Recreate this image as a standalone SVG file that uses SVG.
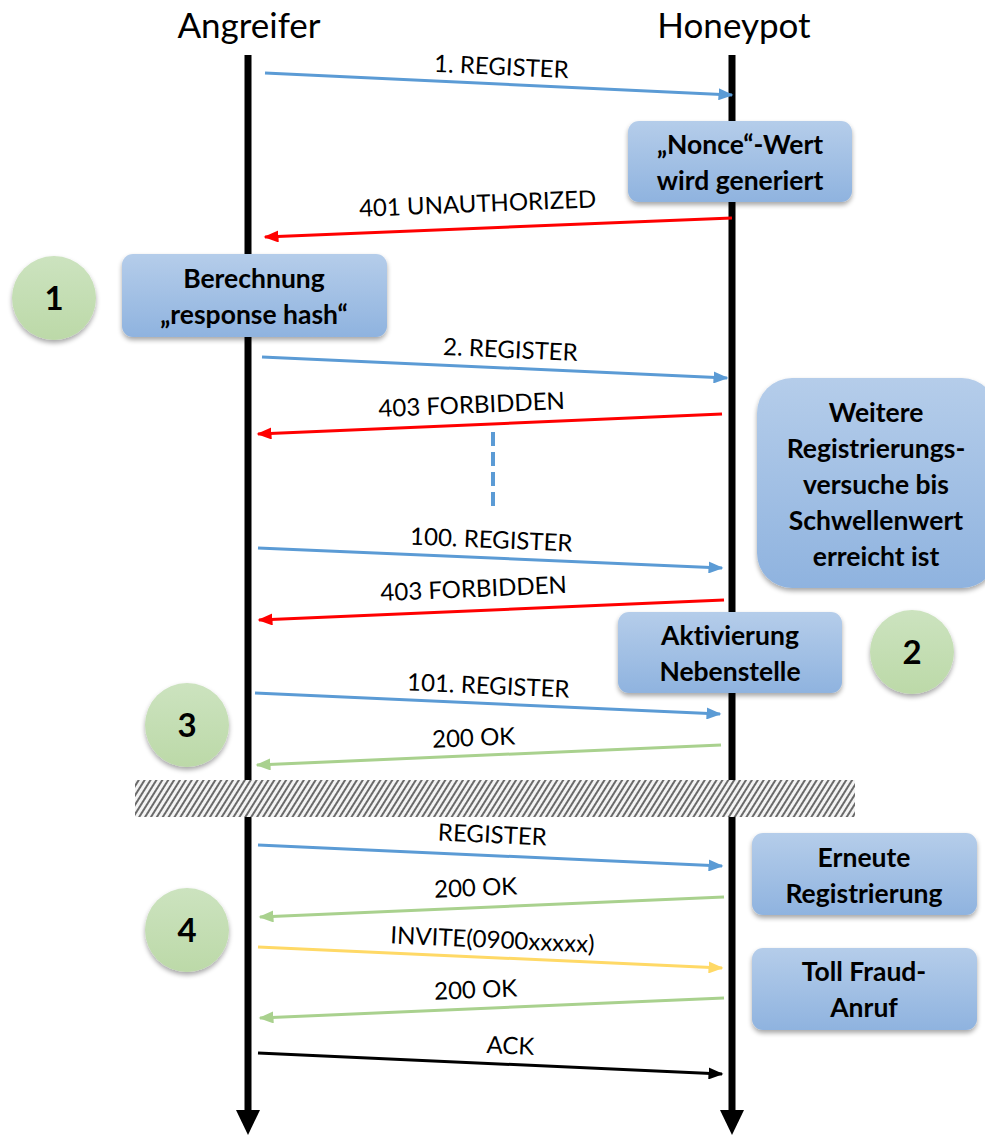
<svg xmlns="http://www.w3.org/2000/svg" width="985" height="1135" viewBox="0 0 985 1135">
  <style>
    text { font-variant-ligatures: none; }
    .hdr { font-family: Lato, "Liberation Sans", sans-serif; font-size: 35px; fill: #000; text-anchor: middle; }
    .lbl { font-family: Lato, "Liberation Sans", sans-serif; font-size: 24px; fill: #000; text-anchor: middle; }
    .box { fill: url(#boxGrad); filter: url(#shadow); }
    .btxt { font-family: Lato, "Liberation Sans", sans-serif; font-size: 26.5px; font-weight: bold; fill: #000; text-anchor: middle; }
    .circ { fill: url(#circGrad); filter: url(#shadow); }
    .ctxt { font-family: Lato, "Liberation Sans", sans-serif; font-size: 33px; font-weight: bold; fill: #000; text-anchor: middle; }
    .life { stroke: #000; stroke-width: 7; fill: none; }
    .msg { stroke-width: 3; fill: none; }
    .blue { stroke: #5b9bd5; marker-end: url(#mBlue); }
    .red { stroke: #ff0000; marker-end: url(#mRed); }
    .green { stroke: #a9d18e; marker-end: url(#mGreen); }
    .yellow { stroke: #ffd966; marker-end: url(#mYellow); }
    .black { stroke: #000; marker-end: url(#mBlack); }
  </style>
  <defs>
    <linearGradient id="boxGrad" x1="0" y1="0" x2="0" y2="1">
      <stop offset="0" stop-color="#b5cdea"/>
      <stop offset="1" stop-color="#8fb3df"/>
    </linearGradient>
    <linearGradient id="circGrad" x1="0" y1="0" x2="0" y2="1">
      <stop offset="0" stop-color="#cce3bf"/>
      <stop offset="1" stop-color="#bcd9a8"/>
    </linearGradient>
    <filter id="shadow" x="-20%" y="-20%" width="140%" height="150%">
      <feGaussianBlur in="SourceAlpha" stdDeviation="2.5"/>
      <feOffset dx="0" dy="3" result="b"/>
      <feComponentTransfer><feFuncA type="linear" slope="0.35"/></feComponentTransfer>
      <feMerge><feMergeNode/><feMergeNode in="SourceGraphic"/></feMerge>
    </filter>
    <pattern id="hatch" width="5" height="5" patternUnits="userSpaceOnUse" patternTransform="rotate(32)">
      <rect width="5" height="5" fill="#f4f4f4"/>
      <rect width="2" height="5" fill="#6a6a6a"/>
    </pattern>
    <marker id="mBlue" markerWidth="5" markerHeight="4" refX="4.5" refY="2" orient="auto" markerUnits="strokeWidth">
      <path d="M0,0 L5,2 L0,4 z" fill="#5b9bd5"/>
    </marker>
    <marker id="mRed" markerWidth="5" markerHeight="4" refX="4.5" refY="2" orient="auto" markerUnits="strokeWidth">
      <path d="M0,0 L5,2 L0,4 z" fill="#ff0000"/>
    </marker>
    <marker id="mGreen" markerWidth="5" markerHeight="4" refX="4.5" refY="2" orient="auto" markerUnits="strokeWidth">
      <path d="M0,0 L5,2 L0,4 z" fill="#a9d18e"/>
    </marker>
    <marker id="mYellow" markerWidth="5" markerHeight="4" refX="4.5" refY="2" orient="auto" markerUnits="strokeWidth">
      <path d="M0,0 L5,2 L0,4 z" fill="#ffd966"/>
    </marker>
    <marker id="mBlack" markerWidth="5" markerHeight="4" refX="4.5" refY="2" orient="auto" markerUnits="strokeWidth">
      <path d="M0,0 L5,2 L0,4 z" fill="#000"/>
    </marker>
  </defs>

  <rect width="985" height="1135" fill="#fff"/>

  <!-- participants -->
  <g id="angreifer">
    <text class="hdr" x="249" y="38">Angreifer</text>
    <line class="life" x1="248" y1="55" x2="248" y2="1112"/>
    <path d="M236,1110 L260,1110 L248,1135 z" fill="#000"/>
  </g>
  <g id="honeypot">
    <text class="hdr" x="734" y="38">Honeypot</text>
    <line class="life" x1="732" y1="55" x2="732" y2="1112"/>
    <path d="M720,1110 L744,1110 L732,1135 z" fill="#000"/>
  </g>

  <!-- time break -->
  <g id="break">
    <rect x="135" y="780" width="720" height="37" fill="url(#hatch)"/>
  </g>

  <!-- messages -->
  <g id="connectors">
    <line class="msg blue" x1="265" y1="73" x2="732" y2="95"/>
    <line class="msg red" x1="732" y1="218" x2="265" y2="237"/>
    <line class="msg blue" x1="262" y1="357" x2="727" y2="378"/>
    <line class="msg red" x1="722" y1="414" x2="258" y2="434"/>
    <line x1="493" y1="432" x2="493" y2="512" stroke="#5b9bd5" stroke-width="4" stroke-dasharray="14,6"/>
    <line class="msg blue" x1="258" y1="548" x2="722" y2="568"/>
    <line class="msg red" x1="724" y1="600" x2="259" y2="620"/>
    <line class="msg blue" x1="255" y1="693" x2="720" y2="714"/>
    <line class="msg green" x1="721" y1="745" x2="257" y2="765"/>
    <line class="msg blue" x1="258" y1="845" x2="722" y2="866"/>
    <line class="msg green" x1="724" y1="897" x2="260" y2="917"/>
    <line class="msg yellow" x1="258" y1="947" x2="722" y2="968"/>
    <line class="msg green" x1="724" y1="998" x2="260" y2="1018"/>
    <line class="msg black" x1="258" y1="1053" x2="722" y2="1074"/>
  </g>

  <!-- message labels -->
  <g id="labels">
    <text class="lbl" transform="translate(501,75) rotate(2.7)">1. REGISTER</text>
    <text class="lbl" transform="translate(478,212) rotate(-2.3)">401 UNAUTHORIZED</text>
    <text class="lbl" transform="translate(510,358) rotate(2.6)">2. REGISTER</text>
    <text class="lbl" transform="translate(472,413) rotate(-2.5)">403 FORBIDDEN</text>
    <text class="lbl" transform="translate(491,548) rotate(2.5)">100. REGISTER</text>
    <text class="lbl" transform="translate(474,597) rotate(-2.5)">403 FORBIDDEN</text>
    <text class="lbl" transform="translate(488,694) rotate(2.6)">101. REGISTER</text>
    <text class="lbl" transform="translate(474,746) rotate(-2.5)">200 OK</text>
    <text class="lbl" transform="translate(492,843) rotate(2.6)">REGISTER</text>
    <text class="lbl" transform="translate(476,896) rotate(-2.5)">200 OK</text>
    <text class="lbl" transform="translate(492,948) rotate(2.6)">INVITE(0900xxxxx)</text>
    <text class="lbl" transform="translate(476,998) rotate(-2.5)">200 OK</text>
    <text class="lbl" transform="translate(510,1054) rotate(2.6)">ACK</text>
  </g>

  <!-- notes -->
  <g id="nonce">
    <rect class="box" x="628" y="121" width="224" height="81" rx="11"/>
    <text class="btxt" x="740" y="154">„Nonce“-Wert</text>
    <text class="btxt" x="740" y="190">wird generiert</text>
  </g>
  <g id="berechnung">
    <rect class="box" x="122" y="254" width="265" height="83" rx="11"/>
    <text class="btxt" x="254" y="288">Berechnung</text>
    <text class="btxt" x="254" y="324">„response hash“</text>
  </g>
  <g id="weitere">
    <rect class="box" x="757" y="378" width="240" height="210" rx="35"/>
    <text class="btxt" x="876" y="422">Weitere</text>
    <text class="btxt" x="876" y="458">Registrierungs-</text>
    <text class="btxt" x="876" y="494">versuche bis</text>
    <text class="btxt" x="876" y="530">Schwellenwert</text>
    <text class="btxt" x="876" y="566">erreicht ist</text>
  </g>
  <g id="aktivierung">
    <rect class="box" x="618" y="612" width="224" height="81" rx="11"/>
    <text class="btxt" x="730" y="645">Aktivierung</text>
    <text class="btxt" x="730" y="681">Nebenstelle</text>
  </g>
  <g id="erneute">
    <rect class="box" x="752" y="833" width="225" height="82" rx="11"/>
    <text class="btxt" x="864" y="867">Erneute</text>
    <text class="btxt" x="864" y="903">Registrierung</text>
  </g>
  <g id="tollfraud">
    <rect class="box" x="752" y="948" width="225" height="82" rx="11"/>
    <text class="btxt" x="864" y="981">Toll Fraud-</text>
    <text class="btxt" x="864" y="1017">Anruf</text>
  </g>

  <!-- step markers -->
  <g id="step1">
    <circle class="circ" cx="54" cy="298" r="42"/>
    <text class="ctxt" x="54" y="310">1</text>
  </g>
  <g id="step2">
    <circle class="circ" cx="912" cy="652" r="42"/>
    <text class="ctxt" x="912" y="664">2</text>
  </g>
  <g id="step3">
    <circle class="circ" cx="187" cy="725" r="42"/>
    <text class="ctxt" x="187" y="737">3</text>
  </g>
  <g id="step4">
    <circle class="circ" cx="187" cy="930" r="42"/>
    <text class="ctxt" x="187" y="942">4</text>
  </g>
</svg>
